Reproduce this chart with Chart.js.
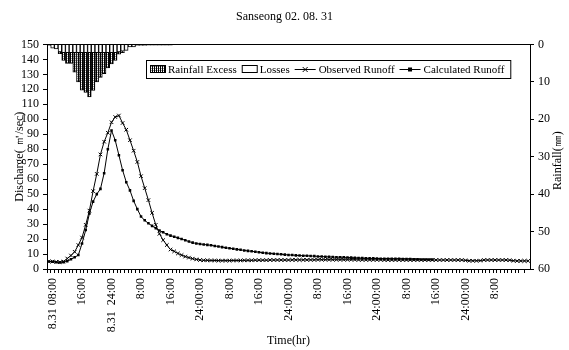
<!DOCTYPE html>
<html>
<head>
<meta charset="utf-8">
<script src="https://cdn.jsdelivr.net/npm/chart.js@4"></script>
<style>
body { margin: 0; background: #fff; }
</style>
</head>
<body>
<canvas id="chart" width="569" height="350"></canvas>
<script>
const SERIF = '"Liberation Serif", "Times New Roman", serif';

const titleText = 'Sanseong 02. 08. 31';
const xTitle = 'Time(hr)';
const yTitle = 'Discharge( ㎥/sec)';
const y2Title = 'Rainfall(㎜)';

// hourly steps, first one is 8.31 07:00
const hourCount = 131;
const firstLabelHour = 1;
const labelStep = 8;
const tickLabels = ['8.31 08:00', '16:00', '8.31  24:00', '8:00', '16:00', '24:00:00', '8:00', '16:00',
  '24:00:00', '8:00', '16:00', '24:00:00', '8:00', '16:00', '24:00:00', '8:00'];

// rainfall (mm), drawn from the top on the reversed right axis
const rainLosses = [0.3, 1.0, 1.2, 2.0, 2.2, 2.2, 2.2, 2.2, 2.2, 2.2,
  2.2, 2.2, 2.2, 2.2, 2.2, 2.2, 2.2, 2.2, 2.2, 2.0,
  1.8, 1.6, 0.7, 0.7, 0.3, 0.3, 0.3, 0.2, 0.2, 0.2,
  0.2, 0.2, 0.2, 0.2];
const rainExcess = [null, null, null, 0.5, 2.1, 2.9, 2.9, 5.2, 7.8, 10.0,
  10.6, 11.8, 10.1, 7.8, 6.6, 5.6, 4.1, 3.0, 2.1, 0.6,
  0.4];

// discharge (m3/sec)
const observedRunoff = [5.0, 5.0, 4.8, 4.6, 5.0, 7.0, 9.0, 11.5, 16.0, 21.0,
  29.5, 39.0, 52.0, 63.5, 76.5, 85.0, 91.0, 98.0, 101.5, 102.5,
  97.5, 93.0, 86.0, 79.0, 71.5, 62.0, 54.0, 46.0, 37.5, 29.5,
  23.5, 19.3, 16.0, 13.0, 11.8, 10.4, 9.3, 8.3, 7.6, 6.9,
  6.4, 6.0, 5.8, 5.8, 5.7, 5.7, 5.6, 5.6, 5.6, 5.6,
  5.7, 5.7, 5.7, 5.8, 5.8, 5.8, 5.9, 5.9, 5.9, 5.9,
  6.0, 6.0, 6.0, 6.0, 6.0, 6.0, 6.1, 6.1, 6.1, 6.1,
  6.1, 6.1, 6.1, 6.2, 6.2, 6.2, 6.2, 6.2, 6.2, 6.2,
  6.2, 6.2, 6.2, 6.2, 6.1, 6.1, 6.1, 6.1, 6.1, 6.1,
  6.1, 6.0, 6.0, 6.0, 6.0, 6.0, 6.0, 6.0, 6.0, 6.0,
  6.0, 6.0, 6.0, 6.0, 6.0, 6.0, 6.0, 6.0, 6.0, 6.0,
  6.0, 6.0, 6.0, 5.8, 5.5, 5.5, 5.5, 5.6, 6.0, 6.0,
  6.0, 6.0, 6.0, 6.0, 6.0, 5.9, 5.5, 5.4, 5.4, 5.4,
  5.4];
const calculatedRunoff = [5.0, 4.8, 4.5, 4.4, 4.6, 5.2, 6.5, 7.8, 9.3, 17.0,
  26.0, 37.0, 45.0, 50.0, 53.5, 64.0, 80.0, 92.5, 86.0, 76.0,
  66.0, 58.0, 52.5, 45.5, 40.0, 35.0, 32.5, 30.5, 28.8, 27.2,
  25.7, 24.5, 23.2, 22.3, 21.6, 20.8, 20.0, 19.2, 18.3, 17.6,
  17.0, 16.7, 16.4, 16.1, 15.8, 15.4, 15.0, 14.6, 14.2, 13.8,
  13.5, 13.1, 12.8, 12.4, 12.1, 11.8, 11.5, 11.2, 10.9, 10.6,
  10.4, 10.2, 10.0, 9.8, 9.6, 9.4, 9.3, 9.1, 9.0, 8.9,
  8.8, 8.7, 8.6, 8.4, 8.3, 8.2, 8.1, 8.0, 7.9, 7.9,
  7.8, 7.7, 7.6, 7.5, 7.4, 7.3, 7.2, 7.1, 7.1, 7.0,
  6.9, 6.9, 6.9, 6.8, 6.8, 6.8, 6.7, 6.7, 6.6, 6.5,
  6.5, 6.4, 6.4, 6.3, 6.3];

const legendNames = ['Rainfall Excess', 'Losses', 'Observed Runoff', 'Calculated Runoff'];

function getHours() {
    const start = new Date(2002, 7, 31, 7);
    const out = [];
    for (let i = 0; i < hourCount; i++) {
        const d = new Date(start.getTime() + i * 3600000);
        out.push(`${d.getMonth() + 1}.${d.getDate()} ${d.getHours()}:00`);
    }
    return out;
}

function makeHatch() {
    const c = document.createElement('canvas');
    c.width = 2;
    c.height = 2;
    const g = c.getContext('2d');
    g.fillStyle = '#fff';
    g.fillRect(0, 0, 2, 2);
    g.fillStyle = '#000';
    g.fillRect(0, 0, 1, 2);
    g.fillStyle = '#999';
    g.fillRect(1, 0, 1, 1);
    return g.createPattern(c, 'repeat');
}

const hatch = makeHatch();

// frame round the plot, like the excel box
const framePlugin = {
    id: 'frame',
    afterDraw(chart) {
        const {ctx, chartArea: a} = chart;
        ctx.save();
        ctx.strokeStyle = '#000';
        ctx.lineWidth = 1;
        ctx.strokeRect(Math.round(a.left) + 0.5, Math.round(a.top) + 0.5,
            Math.round(a.right - a.left), Math.round(a.bottom - a.top));
        // right title reads bottom to top
        ctx.font = '12px ' + SERIF;
        ctx.fillStyle = '#000';
        ctx.textAlign = 'center';
        ctx.textBaseline = 'middle';
        ctx.translate(558, (a.top + a.bottom) / 2 + 4);
        ctx.rotate(-Math.PI / 2);
        ctx.fillText(y2Title, 0, 0);
        ctx.restore();
    }
};

function drawMarker(ctx, style, x, y) {
    if (style === 'rect') {
        ctx.fillRect(x - 2, y - 2, 4, 4);
    } else {
        ctx.beginPath();
        ctx.moveTo(x - 2.5, y - 2.5); ctx.lineTo(x + 2.5, y + 2.5);
        ctx.moveTo(x - 2.5, y + 2.5); ctx.lineTo(x + 2.5, y - 2.5);
        ctx.stroke();
    }
}

const legendPlugin = {
    id: 'boxLegend',
    afterDraw(chart) {
        const ctx = chart.ctx;
        ctx.save();
        ctx.font = '11px ' + SERIF;
        ctx.textBaseline = 'middle';
        ctx.fillStyle = '#000';
        ctx.strokeStyle = '#000';
        ctx.lineWidth = 1;
        const top = 60, h = 18, mid = top + h / 2;
        const left = 146;
        const kinds = ['hatch', 'box', 'crossRot', 'rect'];
        // work out width first
        let w = 4;
        legendNames.forEach((n, i) => {
            w += (kinds[i] === 'hatch' || kinds[i] === 'box' ? 18 : 24) + ctx.measureText(n).width + (i < 3 ? 5 : 6);
        });
        ctx.fillStyle = '#fff';
        ctx.fillRect(left, top, w, h);
        ctx.strokeRect(left + 0.5, top + 0.5, w, h);
        ctx.fillStyle = '#000';
        let x = left + 4;
        legendNames.forEach((n, i) => {
            const k = kinds[i];
            if (k === 'hatch' || k === 'box') {
                ctx.fillStyle = k === 'hatch' ? hatch : '#fff';
                ctx.fillRect(x, mid - 4, 16, 8);
                ctx.strokeRect(x + 0.5, mid - 3.5, 15, 7);
                ctx.fillStyle = '#000';
                x += 18;
            } else {
                ctx.beginPath();
                ctx.moveTo(x, mid + 0.5);
                ctx.lineTo(x + 21, mid + 0.5);
                ctx.stroke();
                drawMarker(ctx, k, x + 10.5, mid + 0.5);
                x += 24;
            }
            ctx.fillText(n, x, mid + 1);
            x += ctx.measureText(n).width + 5;
        });
        ctx.restore();
    }
};

Chart.defaults.font.family = SERIF;
Chart.defaults.font.size = 12;
Chart.defaults.color = '#000';

function getConfig() {
    return {
        type: 'bar',
        data: {
            labels: getHours(),
            datasets: [
                {
                    label: legendNames[1],
                    data: rainLosses,
                    yAxisID: 'y2',
                    stack: 'rain',
                    backgroundColor: '#fff',
                    borderColor: '#000',
                    borderWidth: 1,
                    barPercentage: 1,
                    categoryPercentage: 1
                },
                {
                    label: legendNames[0],
                    data: rainExcess,
                    yAxisID: 'y2',
                    stack: 'rain',
                    backgroundColor: hatch,
                    borderColor: '#000',
                    borderWidth: 1,
                    barPercentage: 1,
                    categoryPercentage: 1
                },
                {
                    type: 'line',
                    label: legendNames[2],
                    data: observedRunoff,
                    yAxisID: 'y',
                    borderColor: '#000',
                    borderWidth: 1,
                    pointStyle: 'crossRot',
                    pointRadius: 2.5,
                    pointBorderWidth: 1,
                    pointBorderColor: '#000',
                    tension: 0
                },
                {
                    type: 'line',
                    label: legendNames[3],
                    data: calculatedRunoff,
                    yAxisID: 'y',
                    borderColor: '#000',
                    borderWidth: 1,
                    pointStyle: 'rect',
                    pointRadius: 1.8,
                    pointBackgroundColor: '#000',
                    pointBorderColor: '#000',
                    pointBorderWidth: 0,
                    tension: 0
                }
            ]
        },
        options: {
            responsive: false,
            animation: false,
            layout: { padding: 0 },
            plugins: {
                legend: { display: false },
                tooltip: { enabled: false },
                title: {
                    display: true,
                    text: titleText,
                    font: { size: 12, weight: 'normal' },
                    padding: { top: 10, bottom: 20 }
                }
            },
            scales: {
                x: {
                    afterFit: (s) => { s.height = 81; },
                    grid: { drawOnChartArea: false, color: '#000', tickLength: 4 },
                    border: { color: '#000' },
                    ticks: {
                        autoSkip: false,
                        minRotation: 90,
                        maxRotation: 90,
                        padding: 5,
                        callback: (v, i) => (i - firstLabelHour) % labelStep === 0 ? tickLabels[(i - firstLabelHour) / labelStep] : ''
                    },
                    title: { display: true, text: xTitle, padding: { top: 0, bottom: 2 } }
                },
                y: {
                    position: 'left',
                    min: 0,
                    max: 150,
                    afterFit: (s) => { s.width = 47; },
                    grid: { drawOnChartArea: false, color: '#000', tickLength: 4 },
                    border: { color: '#000' },
                    ticks: { stepSize: 10, padding: 4, autoSkip: false },
                    title: { display: true, text: yTitle, padding: { top: 13, bottom: 0 } }
                },
                y2: {
                    position: 'right',
                    min: 0,
                    max: 60,
                    reverse: true,
                    stacked: true,
                    afterFit: (s) => { s.width = 39; },
                    grid: { drawOnChartArea: false, color: '#000', tickLength: 4 },
                    border: { color: '#000' },
                    ticks: { stepSize: 10, padding: 4, autoSkip: false }
                }
            }
        },
        plugins: [framePlugin, legendPlugin]
    };
}

function drawChart(elementId) {
    new Chart(document.getElementById(elementId), getConfig());
}

drawChart('chart');
</script>
</body>
</html>
